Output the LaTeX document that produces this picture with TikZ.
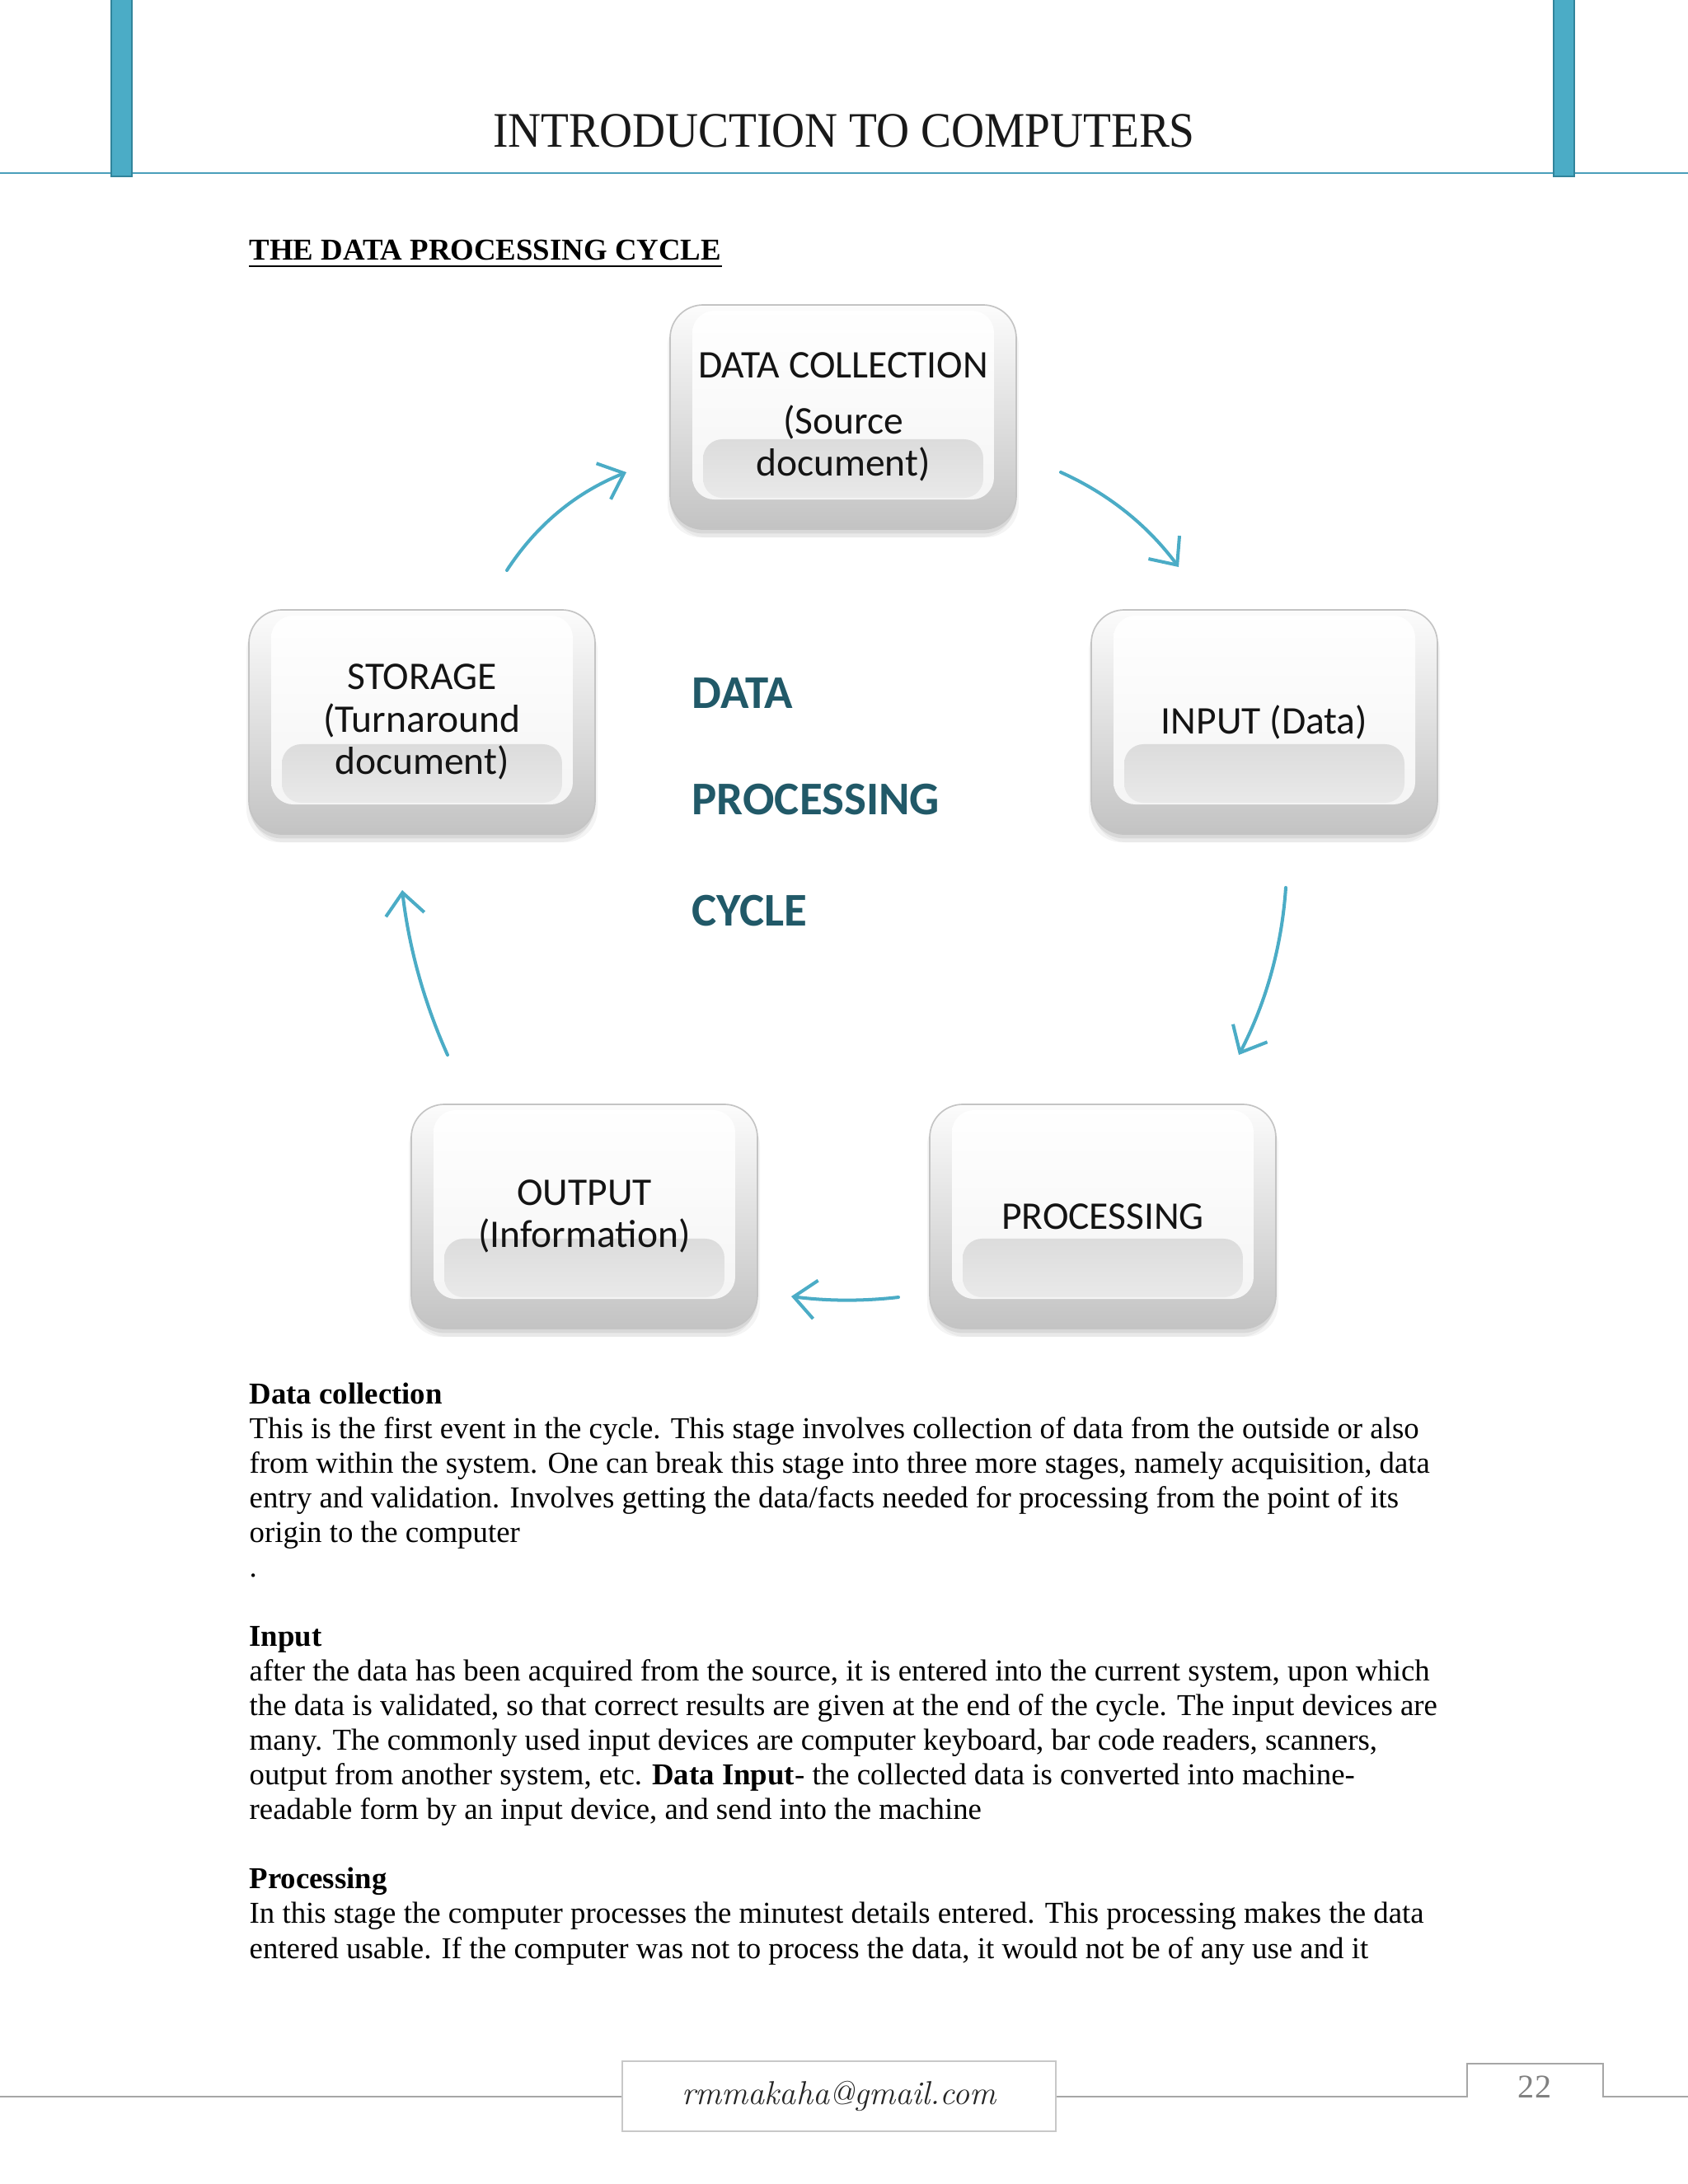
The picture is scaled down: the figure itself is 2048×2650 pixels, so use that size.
\documentclass[tikz,border=0pt]{standalone}
\usepackage{fontspec}
\setmainfont{Liberation Serif}
\newfontfamily\boxfontfam{Carlito}
\newfontfamily\titlefontfam{Liberation Serif}[FakeStretch=0.92]
\newfontfamily\lmfam{Latin Modern Roman}
\usetikzlibrary{shadows,arrows.meta}
\definecolor{hdrbar}{HTML}{4BACC6}
\definecolor{hdrbardark}{HTML}{31849B}
\definecolor{hdrline}{HTML}{4A9FBA}
\definecolor{arrowblue}{HTML}{4BACC6}
\definecolor{titleteal}{HTML}{215968}
\definecolor{boxborder}{HTML}{C4C4C4}
\definecolor{boxtop}{HTML}{FCFCFC}
\definecolor{boxbot}{HTML}{C3C3C3}
\definecolor{facegray}{HTML}{F3F3F3}
\definecolor{bandtop}{HTML}{DCDCDC}
\definecolor{bandbot}{HTML}{E9E9E9}
\definecolor{footgray}{HTML}{A6A6A6}
\definecolor{mailborder}{HTML}{C8C8C8}
\definecolor{pagegray}{HTML}{808080}
\newcommand{\bline}[3]{\node[bodytext] (#1) at (302,#2) {#3};}
\begin{document}
\begin{tikzpicture}[x=0.298828pt, y=-0.298828pt,
  gbox/.style={rectangle, rounded corners=12pt, minimum width=125.5pt, minimum height=81.3pt,
    inner sep=0pt, align=center, text=black!92,
    font=\boxfontfam\fontsize{14.2}{15.3}\selectfont,
    draw=boxborder, line width=0.5pt, top color=boxtop, bottom color=boxbot,
    general shadow={fill=black, opacity=0.045, shadow yshift=-3pt, shadow xshift=0.9pt},
    general shadow={fill=black, opacity=0.045, shadow yshift=-3pt, shadow xshift=-0.9pt},
    general shadow={fill=black, opacity=0.07, shadow yshift=-1.6pt},
    path picture={
      \shade[top color=white, bottom color=facegray, rounded corners=8pt]
        ([shift={(27,7)}]path picture bounding box.north west) rectangle
        ([shift={(-27,-36)}]path picture bounding box.south east);
      \shade[top color=bandtop, bottom color=bandbot, rounded corners=7pt]
        ([shift={(40,163)}]path picture bounding box.north west) rectangle
        ([shift={(-40,-38)}]path picture bounding box.south east);
    }},
  cyc/.style={draw=arrowblue, line width=1.2pt, line cap=round,
    -{Straight Barb[length=8pt, width=14pt]}},
  bodytext/.style={anchor=base west, inner sep=0pt, font=\fontsize{11}{12.65}\selectfont},
  ctitle/.style={anchor=base west, inner sep=0pt, text=titleteal,
    font=\boxfontfam\bfseries\fontsize{17}{20}\selectfont},
  footline/.style={draw=footgray, line width=0.75pt}
]
\useasboundingbox (0,0) rectangle (2048,2650);
\fill[white] (0,0) rectangle (2048,2650);

% ---------- header ----------
\coordinate (hl) at (0,210);
\coordinate (hr) at (2048,210);
\draw[draw=hdrline, line width=0.8pt] (hl) -- (hr);
\filldraw[fill=hdrbar, draw=hdrbardark, line width=0.4pt] (135,-3) rectangle (160,214);
\filldraw[fill=hdrbar, draw=hdrbardark, line width=0.4pt] (1885,-3) rectangle (1910,214);
\node[anchor=base, inner sep=0pt, font=\titlefontfam\fontsize{18}{20}\selectfont, text=black!90]
  (title) at (1024,178) {INTRODUCTION TO COMPUTERS};

% ---------- sub heading ----------
\node[anchor=base west, inner sep=0pt, font=\bfseries\fontsize{11}{12.65}\selectfont]
  (sub) at (302,315) {THE DATA PROCESSING CYCLE};
\draw[line width=0.7pt] ([shift={(0,8)}]sub.base west) -- ([shift={(0,8)}]sub.base east);

% ---------- cycle boxes ----------
\node[gbox] (dc)  at (1023,506)  {DATA COLLECTION\\[4.8pt](Source\\document)};
\node[gbox] (inp) at (1534,876)  {INPUT (Data)};
\node[gbox] (prc) at (1338,1476) {PROCESSING};
\node[gbox] (out) at (709,1476)  {OUTPUT\\(Information)};
\node[gbox] (sto) at (512,876)   {STORAGE\\(Turnaround\\document)};

% ---------- centre title ----------
\node[ctitle] (t1) at (839,859)  {DATA};
\node[ctitle] (t2) at (839,988)  {PROCESSING};
\node[ctitle] (t3) at (839,1123) {CYCLE};

% ---------- arrows ----------
\coordinate (a1s) at (615,692);  \coordinate (a1e) at (760,573);
\coordinate (a2s) at (1287,573); \coordinate (a2e) at (1430,688);
\coordinate (a3s) at (1560,1077);\coordinate (a3e) at (1503,1280);
\coordinate (a4s) at (1090,1574);\coordinate (a4e) at (960,1573);
\coordinate (a5s) at (543,1280); \coordinate (a5e) at (488,1080);
\draw[cyc] (a1s) .. controls (650.7,637) and (699,597.3) .. (a1e);
\draw[cyc] (a2s) .. controls (1344.7,598.9) and (1392.3,637.3) .. (a2e);
\draw[cyc] (a3s) .. controls (1555.1,1148.7) and (1536.1,1216.3) .. (a3e);
\draw[cyc] (a4s) .. controls (1046.7,1579) and (1003.3,1578.7) .. (a4e);
\draw[cyc] (a5s) .. controls (514.4,1216.1) and (496.1,1149.5) .. (a5e);

% ---------- body text ----------
\bline{l0}{1703}{\textbf{Data collection}}
\bline{l1}{1745.1}{This is the first event in the cycle. This stage involves collection of data from the outside or also}
\bline{l2}{1787.1}{from within the system. One can break this stage into three more stages, namely acquisition, data}
\bline{l3}{1829.2}{entry and validation. Involves getting the data/facts needed for processing from the point of its}
\bline{l4}{1871.2}{origin to the computer}
\bline{l5}{1913.3}{.}
\bline{l7}{1997.4}{\textbf{Input}}
\bline{l8}{2039.5}{after the data has been acquired from the source, it is entered into the current system, upon which}
\bline{l9}{2081.5}{the data is validated, so that correct results are given at the end of the cycle. The input devices are}
\bline{l10}{2123.5}{many. The commonly used input devices are computer keyboard, bar code readers, scanners,}
\bline{l11}{2165.6}{output from another system, etc. \textbf{Data Input}- the collected data is converted into machine-}
\bline{l12}{2207.7}{readable form by an input device, and send into the machine}
\bline{l14}{2291.8}{\textbf{Processing}}
\bline{l15}{2333.9}{In this stage the computer processes the minutest details entered. This processing makes the data}
\bline{l16}{2376}{entered usable. If the computer was not to process the data, it would not be of any use and it}

% ---------- footer ----------
\node[draw=mailborder, line width=0.6pt, fill=white, minimum width=157.2pt, minimum height=25.4pt,
  inner sep=0pt, font=\lmfam\itshape\fontsize{12}{14}\selectfont, text=black!85]
  (mail) at (1018,2543.5) {rmmakaha@gmail.com};
\node[anchor=base, inner sep=0pt, font=\fontsize{12}{14}\selectfont, text=pagegray]
  (pg) at (1862,2545) {22};
\coordinate (fl) at (0,2544);
\coordinate (fr) at (2048,2544);
\coordinate (tabbl) at (1780,2544);
\coordinate (tabtl) at (1780,2504);
\coordinate (tabtr) at (1945,2504);
\coordinate (tabbr) at (1945,2544);
\draw[footline] (fl) -- (fl -| mail.west);
\draw[footline] (fl -| mail.east) -- (tabbl) -- (tabtl) -- (tabtr) -- (tabbr) -- (fr);
\end{tikzpicture}
\end{document}
